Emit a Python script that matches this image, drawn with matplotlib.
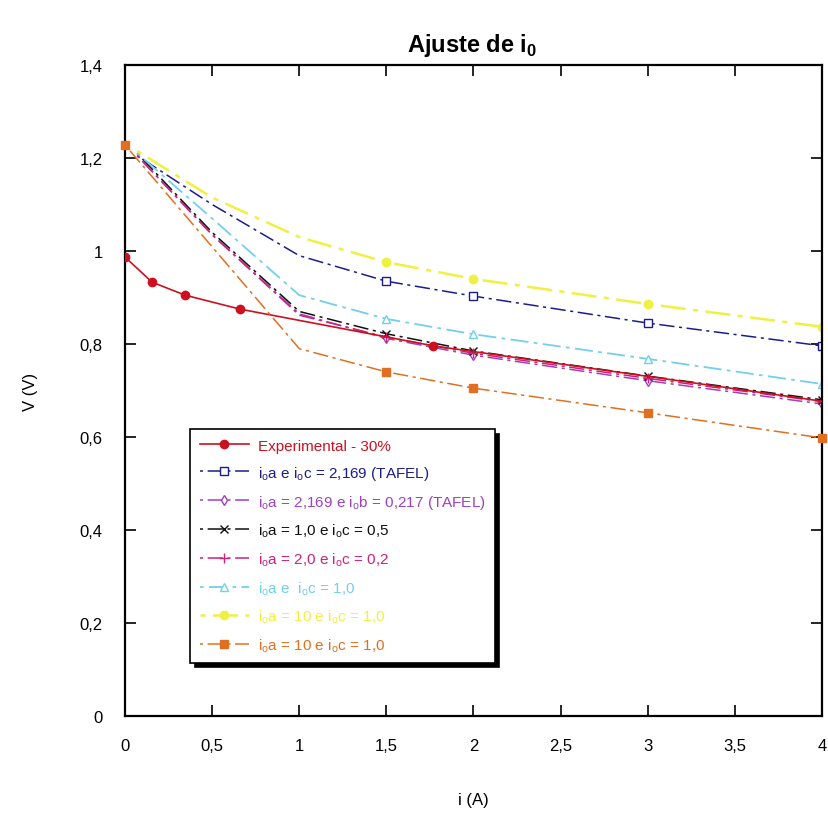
import matplotlib

matplotlib.use("Agg")
import matplotlib.pyplot as plt
from matplotlib.ticker import FuncFormatter, MultipleLocator

plt.rcParams["font.family"] = ["Liberation Sans Narrow", "Liberation Sans", "DejaVu Sans"]
plt.rcParams["mathtext.fontset"] = "custom"
plt.rcParams["mathtext.rm"] = "Liberation Sans"
plt.rcParams["mathtext.bf"] = "Liberation Sans:bold"

# ---------------------------------------------------------------------------
# Data
# ---------------------------------------------------------------------------
exp_i = [0.0, 0.155, 0.345, 0.66, 1.77, 4.0]
exp_v = [0.987, 0.933, 0.905, 0.875, 0.796, 0.677]

model_i = [0.07, 0.5, 1.0, 1.5, 2.0, 3.0, 4.0]
v_tafel = [1.205, 1.10, 0.99, 0.935, 0.903, 0.845, 0.796]
v_tafel_b = [1.205, 1.035, 0.865, 0.812, 0.776, 0.721, 0.671]
v_10_05 = [1.21, 1.04, 0.87, 0.822, 0.785, 0.731, 0.680]
v_20_02 = [1.205, 1.035, 0.862, 0.815, 0.780, 0.726, 0.676]
v_cyan = [1.21, 1.07, 0.905, 0.854, 0.821, 0.768, 0.714]
v_yellow = [1.215, 1.115, 1.03, 0.976, 0.940, 0.886, 0.837]

orange_i = [0.0, 1.0, 1.5, 2.0, 3.0, 4.0]
v_orange = [1.228, 0.79, 0.740, 0.705, 0.652, 0.598]

labels = [
    "Experimental - 30%",
    r"i$_{\rm o}$a e i$_{\rm o}$c = 2,169 (TAFEL)",
    r"i$_{\rm o}$a = 2,169 e i$_{\rm o}$b = 0,217 (TAFEL)",
    r"i$_{\rm o}$a = 1,0 e i$_{\rm o}$c = 0,5",
    r"i$_{\rm o}$a = 2,0 e i$_{\rm o}$c = 0,2",
    r"i$_{\rm o}$a e  i$_{\rm o}$c = 1,0",
    r"i$_{\rm o}$a = 10 e i$_{\rm o}$c = 1,0",
    r"i$_{\rm o}$a = 10 e i$_{\rm o}$c = 1,0",
]

C_RED = "#CC1020"
C_BLUE = "#1C1C8C"
C_PURPLE = "#A040C0"
C_BLACK = "#101010"
C_MAGENTA = "#D0207A"
C_CYAN = "#70D0EE"
C_YELLOW = "#F0F040"
C_ORANGE = "#E07020"

DASH = (2, 3, 10, 3)
MARK = [3, 4, 5, 6]

fig = plt.figure(figsize=(8.29, 8.28), dpi=100)
ax = fig.add_axes([125 / 829, 1 - 717 / 828, 697 / 829, 651 / 828])

ax.plot(exp_i, exp_v, color=C_RED, lw=1.2, marker="o", ms=6,
        markevery=[0, 1, 2, 3, 4], label=labels[0], zorder=6)
ax.plot(model_i, v_tafel, color=C_BLUE, lw=1.1, dashes=DASH, marker="s", ms=6,
        mfc="white", mec=C_BLUE, markevery=MARK, label=labels[1])
ax.plot(model_i, v_tafel_b, color=C_PURPLE, lw=1.1, dashes=DASH, marker="d", ms=5,
        mfc="white", mec=C_PURPLE, markevery=MARK, label=labels[2])
ax.plot(model_i, v_10_05, color=C_BLACK, lw=1.1, dashes=DASH, marker="x", ms=6,
        markevery=MARK, label=labels[3])
ax.plot(model_i, v_20_02, color=C_MAGENTA, lw=1.1, dashes=DASH, marker="+", ms=7,
        markevery=MARK, label=labels[4])
ax.plot(model_i, v_cyan, color=C_CYAN, lw=1.3, dashes=DASH, marker="^", ms=6,
        mfc="white", mec=C_CYAN, markevery=MARK, label=labels[5])
ax.plot(model_i, v_yellow, color=C_YELLOW, lw=1.8, dashes=DASH, marker="o", ms=6,
        markevery=MARK, label=labels[6])
ax.plot(orange_i, v_orange, color=C_ORANGE, lw=1.1, dashes=DASH, marker="s", ms=6,
        markevery=[0, 2, 3, 4, 5], label=labels[7], clip_on=False, zorder=7)

ax.set_xlim(0, 4)
ax.set_ylim(0, 1.4)
ax.xaxis.set_major_locator(MultipleLocator(0.5))
ax.yaxis.set_major_locator(MultipleLocator(0.2))
fmt = FuncFormatter(lambda v, _: f"{v:g}".replace(".", ","))
ax.xaxis.set_major_formatter(fmt)
ax.yaxis.set_major_formatter(fmt)
ax.tick_params(direction="in", length=8, width=1.2, top=True, right=True,
               labelsize=12, pad=16, colors="black")
for s in ax.spines.values():
    s.set_linewidth(1.6)

ax.set_xlabel("i (A)", fontsize=12, labelpad=28)
ax.set_ylabel("V (V)", fontsize=12, labelpad=30)
fig.text(0.57, 0.945, r"Ajuste de i$_\mathbf{0}$", ha="center", va="center",
         fontsize=17, fontweight="bold", family="Liberation Sans")

leg = ax.legend(loc="upper left", bbox_to_anchor=(0.083, 0.452), fontsize=11,
                frameon=True, fancybox=False, edgecolor="black", framealpha=1,
                shadow={"color": "black", "alpha": 1, "ox": 3, "oy": -3},
                handlelength=3.2, handletextpad=0.6, labelspacing=0.72,
                borderpad=0.6)
leg.get_frame().set_linewidth(1.2)
for txt, line in zip(leg.get_texts(), leg.get_lines()):
    txt.set_color(line.get_color())

fig.savefig("out.png", dpi=100, facecolor="white")
